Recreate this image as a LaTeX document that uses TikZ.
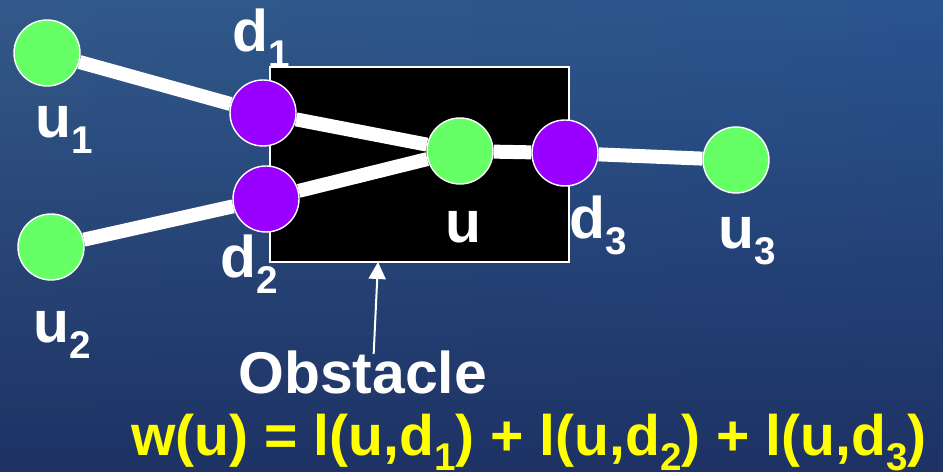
\documentclass[tikz,border=0pt]{standalone}
\usepackage{fontspec}
\setmainfont{Liberation Sans}
\usepackage{xcolor}
\usepackage{tikz}
\usetikzlibrary{arrows.meta,positioning,calc,fadings}
\definecolor{bgleft}{HTML}{335A8A}
\definecolor{bgmid}{HTML}{0B4A80}
\definecolor{bgright}{HTML}{2A5590}
\definecolor{bgbot}{HTML}{1E3264}
\definecolor{vgreen}{HTML}{66FF66}
\definecolor{vpurple}{HTML}{9900FF}
\definecolor{eqyellow}{HTML}{FFFF00}
\newcommand{\lowsub}[1]{\raisebox{-0.26em}{\fontsize{22}{22}\selectfont #1}}

\begin{document}
\begin{tikzpicture}[x=0.02cm, y=-0.02cm,
  vtx/.style={circle, draw=white, line width=0.8pt, minimum size=1.32cm, inner sep=0pt},
  gvtx/.style={vtx, fill=vgreen},
  pvtx/.style={vtx, fill=vpurple},
  wire/.style={white, line width=0.28cm},
  lbl/.style={white, anchor=base west, inner sep=0pt, font=\fontsize{33.5}{38}\selectfont\bfseries},
  obstbox/.style={draw=white, line width=0.8pt, fill=black, minimum width=5.98cm, minimum height=3.9cm, inner sep=0pt},
  pointer/.style={-{Triangle[width=0.34cm, length=0.34cm]}, white, line width=0.04cm}]
\useasboundingbox (0,0) rectangle (943,472);
% background
\fill[left color=bgleft, middle color=bgmid, right color=bgright] (0,0) rectangle (943,472);
\fill[bgbot, path fading=north] (0,0) rectangle (943,472);
% obstacle
\node[obstbox] (box) at (419.5,164.5) {};
% vertices
\node[gvtx] (u1) at (47,53) {};
\node[gvtx] (u2) at (51,247) {};
\node[pvtx] (d1) at (263,113) {};
\node[pvtx] (d2) at (266,199) {};
\node[gvtx] (u) at (460,151) {};
\node[pvtx] (d3) at (565,153) {};
\node[gvtx] (u3) at (736,160) {};
% edges
\draw[wire] (u1) -- (d1);
\draw[wire] (d1) -- (u);
\draw[wire] (u2) -- (d2);
\draw[wire] (d2) -- (u);
\draw[wire] (u) -- (d3);
\draw[wire] (d3) -- (u3);
% labels
\node[lbl] (lu1) at (35,138) {u\lowsub{1}};
\node[lbl] (lu2) at (33,343) {u\lowsub{2}};
\node[lbl] (ld1) at (232,52) {d\lowsub{1}};
\node[lbl] (ld2) at (220,278) {d\lowsub{2}};
\node[lbl] (lu) at (445,243) {u};
\node[lbl] (ld3) at (569,239) {d\lowsub{3}};
\node[lbl] (lu3) at (718,249) {u\lowsub{3}};
\node[lbl] (obst) at (238,394) {Obstacle};
\coordinate (tip) at (378,262);
\draw[pointer] ([xshift=0.22cm,yshift=-0.06cm]obst.north) -- (tip);
\node[lbl, text=eqyellow, font=\fontsize{32.5}{38}\selectfont\bfseries] (eq) at (131,456) {w(u) = l(u,d\lowsub{1}) + l(u,d\lowsub{2}) + l(u,d\lowsub{3})};
\end{tikzpicture}
\end{document}
